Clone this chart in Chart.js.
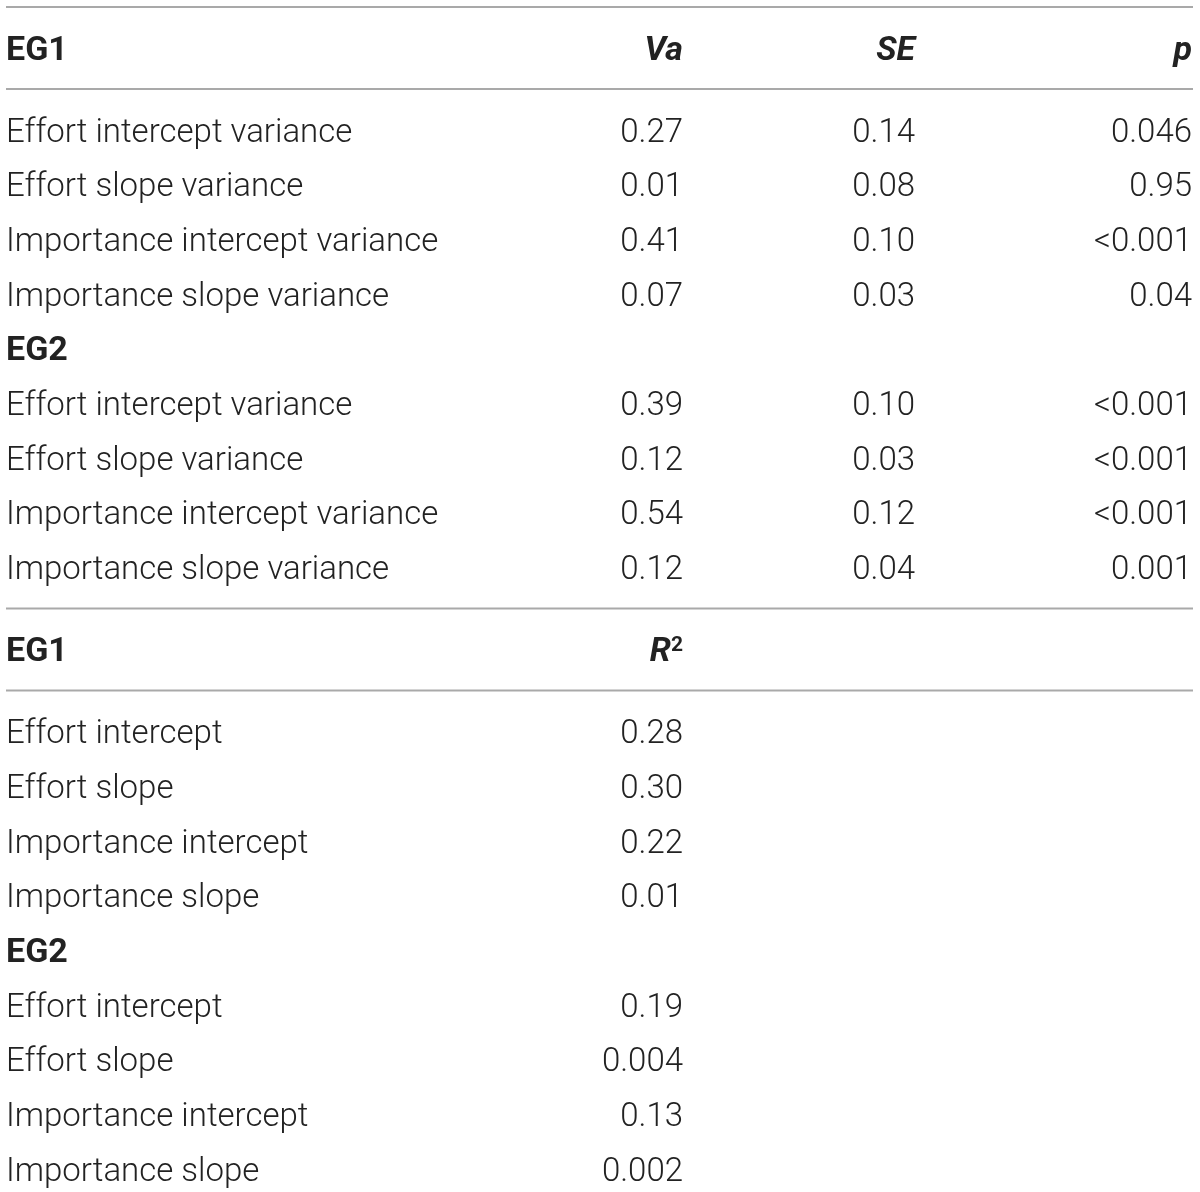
<!DOCTYPE html>
<html>
<head>
<meta charset="utf-8">
<script src="https://cdn.jsdelivr.net/npm/chart.js@4"></script>
<style>
  html, body { margin: 0; padding: 0; background: #fff; }
  #wrap { position: relative; width: 1200px; height: 1192px; }
</style>
</head>
<body>
<div id="wrap"><canvas id="c"></canvas></div>
<script>
// ---------- data ----------
const groupNames = ['EG1', 'EG2'];
const varianceRows = ['Effort intercept variance', 'Effort slope variance', 'Importance intercept variance', 'Importance slope variance'];
const varianceHeaders = ['Va', 'SE', 'p'];
const vaEG1 = ['0.27', '0.01', '0.41', '0.07'];
const seEG1 = ['0.14', '0.08', '0.10', '0.03'];
const pEG1  = ['0.046', '0.95', '<0.001', '0.04'];
const vaEG2 = ['0.39', '0.12', '0.54', '0.12'];
const seEG2 = ['0.10', '0.03', '0.12', '0.04'];
const pEG2  = ['<0.001', '<0.001', '<0.001', '0.001'];
const r2Rows = ['Effort intercept', 'Effort slope', 'Importance intercept', 'Importance slope'];
const r2Header = 'R';
const r2Sup = '2';
const r2EG1 = ['0.28', '0.30', '0.22', '0.01'];
const r2EG2 = ['0.19', '0.004', '0.13', '0.002'];

// ---------- layout (column anchors in x-scale units, rows in row units) ----------
const COL = { label: 6, va: 683, se: 915, p: 1192 };
const LINE_X = [6, 1193];
const FONT = 'Roboto, "Liberation Sans", sans-serif';
const TXT = '#222222';

const datasets = [];
function ruleAt(v) {
  datasets.push({ type: 'line', data: [{ x: LINE_X[0], y: v }, { x: LINE_X[1], y: v }],
    borderColor: '#a9a9a9', borderWidth: 2, pointRadius: 0, showLine: true, fill: false });
}
function cells(points, texts, align, style) {
  datasets.push({ type: 'scatter', data: points, pointRadius: 0, cellText: texts, cellAlign: align, cellStyle: style });
}
function rowsBlock(startV, labels, cols) {
  const ys = labels.map((_, i) => startV + i);
  cells(ys.map(y => ({ x: COL.label, y })), labels, 'left', 'normal');
  cols.forEach(c => cells(ys.map(y => ({ x: c.x, y })), c.values, 'right', 'normal'));
  return startV + labels.length;
}

// Table 1
let v = 0;
ruleAt(v - 0.75);
cells([{ x: COL.label, y: v }], [groupNames[0]], 'left', 'bold');
cells([{ x: COL.va, y: v }, { x: COL.se, y: v }, { x: COL.p, y: v }], varianceHeaders, 'right', 'bolditalic');
ruleAt(v + 0.75);
v += 1.5;
v = rowsBlock(v, varianceRows, [{ x: COL.va, values: vaEG1 }, { x: COL.se, values: seEG1 }, { x: COL.p, values: pEG1 }]);
cells([{ x: COL.label, y: v }], [groupNames[1]], 'left', 'bold');
v += 1;
v = rowsBlock(v, varianceRows, [{ x: COL.va, values: vaEG2 }, { x: COL.se, values: seEG2 }, { x: COL.p, values: pEG2 }]);

// Table 2
v = v - 1 + 1.5;
ruleAt(v - 0.75);
cells([{ x: COL.label, y: v }], [groupNames[0]], 'left', 'bold');
cells([{ x: COL.va, y: v }], [r2Header], 'right', 'r2');
ruleAt(v + 0.75);
v += 1.5;
v = rowsBlock(v, r2Rows, [{ x: COL.va, values: r2EG1 }]);
cells([{ x: COL.label, y: v }], [groupNames[1]], 'left', 'bold');
v += 1;
v = rowsBlock(v, r2Rows, [{ x: COL.va, values: r2EG2 }]);

const textPlugin = {
  id: 'cellText',
  afterDatasetsDraw(chart) {
    const ctx = chart.ctx;
    ctx.save();
    ctx.fillStyle = TXT;
    ctx.textBaseline = 'alphabetic';
    chart.data.datasets.forEach((ds, di) => {
      if (!ds.cellText) return;
      const meta = chart.getDatasetMeta(di);
      meta.data.forEach((el, i) => {
        const t = ds.cellText[i];
        const base = el.y + 11.7;
        if (ds.cellStyle === 'r2') {
          ctx.font = 'bold 21px ' + FONT;
          const supW = ctx.measureText(r2Sup).width;
          ctx.textAlign = 'right';
          ctx.fillText(r2Sup, el.x, base - 10);
          ctx.font = 'italic bold 34px ' + FONT;
          ctx.fillText(t, el.x - supW, base);
          return;
        }
        if (ds.cellStyle === 'bold') ctx.font = 'bold 34px ' + FONT;
        else if (ds.cellStyle === 'bolditalic') ctx.font = 'italic bold 34px ' + FONT;
        else ctx.font = '300 33px ' + FONT;
        ctx.textAlign = ds.cellAlign;
        ctx.fillText(t, el.x, base);
      });
    });
    ctx.restore();
  }
};

new Chart(document.getElementById('c'), {
  type: 'scatter',
  data: { datasets },
  options: {
    responsive: true,
    maintainAspectRatio: false,
    animation: false,
    layout: { padding: 0 },
    plugins: { legend: { display: false }, tooltip: { enabled: false } },
    scales: {
      x: { type: 'linear', min: 0, max: 1200, display: false },
      y: { type: 'linear', min: -0.878, max: 20.922, reverse: true, display: false }
    }
  },
  plugins: [textPlugin]
});
</script>
</body>
</html>
